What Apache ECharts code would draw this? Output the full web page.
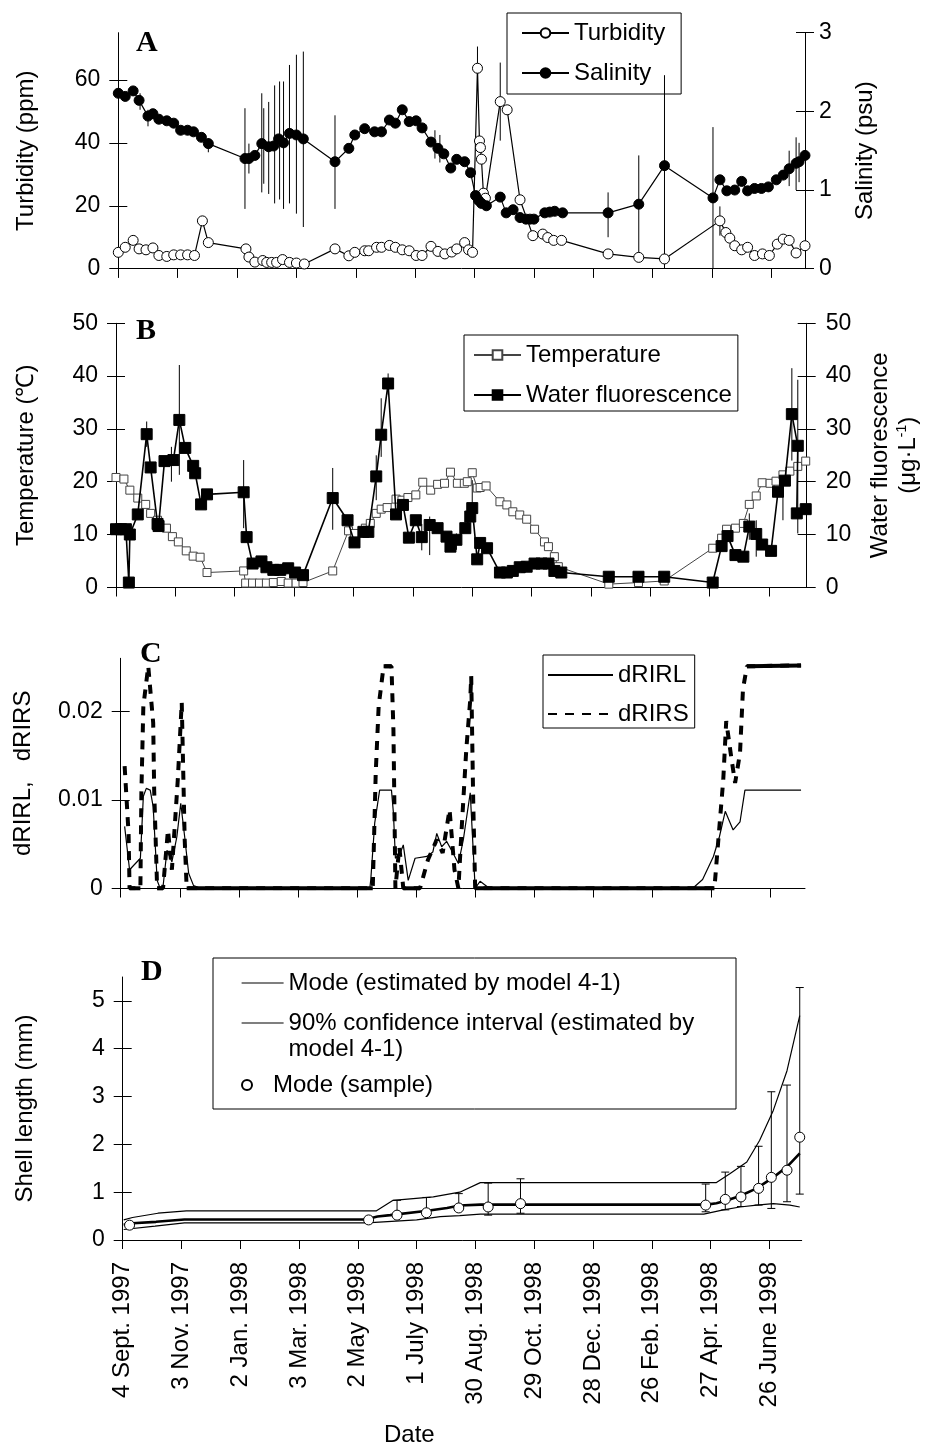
<!DOCTYPE html>
<html>
<head>
<meta charset="utf-8">
<script src="https://cdn.jsdelivr.net/npm/echarts@6/dist/echarts.min.js"></script>
<style>
html, body { margin: 0; padding: 0; background: #fff; }
#main { width: 927px; height: 1448px; }
</style>
</head>
<body>
<div id="main"></div>
<script>
// x values are days since 4 Sept. 1997
var dateLabels = ['4 Sept. 1997', '3 Nov. 1997', '2 Jan. 1998', '3 Mar. 1998', '2 May 1998', '1 July 1998',
    '30 Aug. 1998', '29 Oct. 1998', '28 Dec. 1998', '26 Feb. 1998', '27 Apr. 1998', '26 June 1998'];

// panel A
var turbidity = [[0,5.2],[7,6.8],[15,9.0],[21,6.3],[28,6.0],[35,6.6],[41,4.2],[49,3.9],[56,4.4],[63,4.4],[70,4.4],[77,4.2],[85,15.2],[91,8.3],[129,6.3],[132,3.7],[138,2.1],[146,2.6],[150,2.0],[155,2.0],[160,2.0],[166,2.9],[173,2.0],[180,1.8],[188,1.5],[219,6.3],[233,4.1],[239,5.2],[249,5.7],[253,5.7],[261,6.8],[266,6.8],[274,7.4],[280,6.8],[287,6.0],[294,5.7],[301,4.2],[307,4.2],[316,7.1],[323,5.5],[330,4.7],[337,5.3],[342,6.3],[350,8.3],[354,6.0],[358,5.2],[363,63.7],[365,40.6],[366,38.5],[367,34.8],[369,24.0],[371,22.4],[386,53.1],[393,50.5],[406,21.9],[419,10.5],[429,11.0],[434,9.9],[440,9.0],[448,9.0],[495,4.7],[526,3.6],[552,3.1],[608,15.2],[614,11.5],[618,9.7],[623,7.3],[630,6.0],[636,6.8],[643,4.2],[651,4.7],[658,4.2],[666,7.8],[672,9.4],[678,9.0],[685,5.0],[694,7.3]];
var salinity = [[0,2.23],[7,2.19],[15,2.26],[21,2.14],[30,1.94],[35,1.97],[41,1.90],[49,1.88],[56,1.85],[63,1.76],[70,1.76],[76,1.74],[84,1.67],[91,1.59],[128,1.40],[132,1.40],[138,1.44],[145,1.59],[152,1.55],[157,1.56],[162,1.65],[167,1.60],[173,1.72],[180,1.70],[187,1.65],[219,1.36],[233,1.53],[239,1.70],[249,1.78],[259,1.74],[266,1.74],[274,1.89],[280,1.85],[287,2.02],[294,1.87],[301,1.88],[307,1.79],[316,1.61],[323,1.53],[329,1.46],[336,1.28],[342,1.39],[350,1.36],[356,1.22],[361,0.93],[364,0.87],[367,0.83],[372,0.80],[386,0.91],[392,0.71],[399,0.75],[406,0.65],[412,0.63],[416,0.63],[420,0.63],[431,0.71],[436,0.72],[441,0.73],[449,0.71],[495,0.71],[526,0.82],[552,1.31],[601,0.90],[608,1.13],[615,0.99],[623,1.00],[630,1.11],[636,0.99],[643,1.02],[650,1.02],[657,1.04],[665,1.13],[672,1.19],[678,1.27],[685,1.34],[688,1.36],[694,1.44]];
// [day, high, low]
var salinityErr = [[22,2.23,2.02],[30,2.02,1.81],[91,1.66,1.48],[128,2.04,0.76],[132,1.59,1.21],[145,2.23,0.97],[147,2.04,1.08],[152,2.12,0.95],[158,2.33,0.83],[163,2.38,0.88],[167,2.38,0.76],[173,2.59,0.83],[180,2.72,0.70],[187,2.76,0.53],[219,1.95,0.76],[320,1.76,1.40],[325,1.70,1.35],[495,0.97,0.40],[526,1.44,0.19],[552,2.46,0],[601,1.80,0],[678,1.50,1.05],[685,1.67,1.00],[688,1.60,1.10]];
var turbidityErr = [[363,70.6,56.8],[386,65.5,40.7],[608,19.8,10.5]];

// panel B
var temperature = [[0,20.8],[8,20.5],[14,18.4],[22,16.9],[30,15.7],[35,14.0],[42,12.7],[51,11.2],[57,9.6],[63,8.6],[71,6.9],[78,5.9],[85,5.7],[92,2.8],[129,3.1],[131,0.8],[138,0.8],[145,0.8],[152,0.8],[159,0.9],[167,1.1],[174,0.8],[182,0.8],[189,0.9],[219,3.1],[235,10.7],[241,10.2],[252,11.2],[257,12.1],[263,14.0],[268,14.8],[274,15.1],[283,16.7],[289,16.5],[295,17.0],[303,17.5],[310,19.9],[318,18.4],[325,19.5],[332,19.7],[338,21.8],[345,19.7],[352,19.7],[355,20.0],[360,21.7],[365,18.8],[368,18.9],[374,19.2],[388,16.2],[395,15.6],[401,14.3],[408,13.7],[415,12.9],[423,11.0],[433,8.6],[437,7.7],[443,5.8],[447,3.9],[498,0.6],[528,0.9],[554,1.2],[603,7.4],[612,9.3],[617,11.0],[626,11.2],[634,12.1],[640,15.7],[647,17.3],[653,19.8],[661,19.7],[667,20.1],[674,21.3],[681,22.0],[689,22.9],[697,23.9]];
var fluorescence = [[0,11.0],[5,11.0],[10,11.0],[13,0.9],[14,10.0],[22,13.8],[31,29.0],[35,22.7],[42,12.0],[43,11.6],[49,23.9],[58,24.1],[64,31.7],[70,26.4],[78,23.0],[80,21.6],[86,15.7],[92,17.6],[129,18.0],[132,9.5],[138,4.5],[147,4.9],[152,3.8],[159,3.3],[166,3.3],[174,3.6],[181,2.8],[189,2.3],[219,16.9],[234,12.7],[241,8.5],[250,10.5],[255,10.5],[263,21.0],[268,28.9],[275,38.6],[283,13.8],[290,15.6],[296,9.4],[303,12.7],[309,9.5],[317,11.8],[325,11.2],[334,9.6],[338,7.7],[344,9.0],[353,11.2],[358,13.4],[360,15.0],[365,5.3],[368,8.4],[375,7.4],[388,2.8],[395,2.8],[401,3.1],[408,3.8],[415,3.9],[423,4.5],[430,4.5],[437,4.5],[443,3.1],[450,2.8],[498,2.0],[528,2.0],[554,2.0],[603,0.9],[612,7.8],[618,9.7],[626,6.1],[634,5.8],[640,11.5],[647,10.1],[653,8.1],[662,6.9],[669,18.1],[676,20.2],[683,32.8],[689,26.8],[688,14.0],[697,14.8]];
var fluorescenceErr = [[31,31.4,26.6],[56,26.6,20.0],[64,42.1,21.3],[129,24.1,11.2],[219,22.6,10.9],[263,25.0,16.5],[268,35.8,24.7],[275,40.5,36.5],[309,12.0,7.0],[317,13.4,6.1],[344,10.2,7.1],[360,20.3,15.0],[640,14.0,9.0],[647,12.7,5.8],[674,21.6,12.7],[683,41.5,24.0],[689,39.3,10.2]];

// panel C
var dRIRL = [[4,0.0070],[9,0.0021],[20,0.0034],[23,0.0104],[26,0.0113],[30,0.0111],[33,0.0092],[37,0.0009],[40,0],[43,0.0002],[47,0.0043],[52,0.0030],[57,0.0058],[61,0.0096],[65,0.0058],[69,0.0017],[74,0.0003],[81,0],[253,0],[254,0.0010],[258,0.0074],[263,0.0111],[275,0.0111],[277,0.0085],[279,0.0034],[284,0.0040],[287,0.0049],[292,0.0009],[299,0.0034],[311,0.0036],[317,0.0041],[321,0.0062],[326,0.0047],[331,0.0053],[336,0.0043],[343,0.0028],[348,0.0055],[355,0.0108],[360,0],[365,0.0008],[372,0.0002],[378,0],[581,0],[591,0.0010],[602,0.0036],[608,0.0058],[614,0.0087],[622,0.0066],[629,0.0075],[634,0.0111],[691,0.0111]];
var dRIRS = [[4,0.0138],[8,0.0062],[9,0],[20,0],[21,0.0108],[23,0.0206],[28,0.0251],[33,0.0187],[34,0.0111],[37,0],[43,0],[48,0.0066],[52,0.0021],[58,0.0123],[62,0.0210],[65,0.0055],[67,0],[256,0],[259,0.0130],[262,0.0206],[267,0.0251],[275,0.0251],[277,0.0179],[278,0.0092],[279,0],[283,0.0047],[287,0],[304,0],[312,0.0032],[321,0.0055],[327,0.0040],[334,0.0089],[339,0.0021],[343,0],[346,0.0062],[351,0.0157],[355,0.0213],[356,0.0240],[358,0.0100],[360,0],[603,0],[607,0.0055],[612,0.0123],[615,0.0189],[620,0.0149],[624,0.0119],[629,0.0153],[632,0.0225],[636,0.0251],[691,0.0252]];

// panel D
var modeEstimated = [[1,0.32],[10,0.35],[34,0.38],[63,0.43],[248,0.43],[260,0.49],[273,0.52],[311,0.61],[331,0.67],[344,0.72],[365,0.74],[596,0.74],[606,0.77],[617,0.83],[630,0.92],[647,1.08],[664,1.31],[678,1.53],[691,1.81]];
var ciUpper = [[1,0.42],[10,0.47],[36,0.56],[65,0.61],[259,0.61],[276,0.83],[317,0.90],[344,1.00],[365,1.20],[606,1.20],[620,1.39],[637,1.63],[650,2.08],[664,2.71],[678,3.54],[691,4.69]];
var ciLower = [[1,0.22],[33,0.29],[63,0.36],[249,0.36],[266,0.38],[300,0.42],[324,0.49],[344,0.51],[365,0.54],[593,0.54],[613,0.63],[630,0.69],[647,0.73],[664,0.76],[681,0.73],[691,0.69]];
// [day, mode, high, low]
var modeSample = [[7,0.31,0.31,0.31],[251,0.42,0.42,0.42],[280,0.52,0.83,0.52],[310,0.57,0.89,0.57],[343,0.67,0.97,0.67],[373,0.69,1.19,0.52],[406,0.76,1.28,0.56],[595,0.73,1.17,0.59],[615,0.85,1.42,0.63],[631,0.90,1.54,0.70],[649,1.08,1.96,0.73],[662,1.31,3.10,0.66],[678,1.46,3.24,0.80],[691,2.15,5.28,0.96]];

var FONT = 'Liberation Sans';
var CI_NAME = '90% confidence interval (estimated by\nmodel 4-1)';
var xTicks = dateLabels.map(function (d, i) { return i * 60; });

var chartDom = document.getElementById('main');
var myChart = echarts.init(chartDom);

function xAxes(grid, max, withLabels) {
    var outer = {
        type: 'value', gridIndex: grid, min: 0, max: max, splitLine: { show: false },
        axisLine: { show: true, onZero: false, lineStyle: { color: '#000', width: 1 } },
        axisTick: { show: true, length: 9, customValues: xTicks, lineStyle: { color: '#000' } },
        axisLabel: withLabels ? {
            show: true, customValues: xTicks, rotate: 90, margin: 22,
            fontFamily: FONT, fontSize: 24, color: '#000',
            formatter: function (v) { return dateLabels[Math.round(v / 60)]; }
        } : { show: false }
    };
    var inner = {
        type: 'value', gridIndex: grid, min: 0, max: max, splitLine: { show: false },
        axisLine: { show: false },
        axisTick: { show: true, inside: true, length: 9, customValues: xTicks, lineStyle: { color: '#000' } },
        axisLabel: { show: false }
    };
    return [outer, inner];
}

function yAxes(grid, pos, max, ticks, margin, name, nameGap, extra) {
    var outer = {
        type: 'value', gridIndex: grid, position: pos, min: 0, max: max, splitLine: { show: false },
        axisLine: { show: true, lineStyle: { color: '#000', width: 1 } },
        axisTick: { show: true, length: 9, customValues: ticks, lineStyle: { color: '#000' } },
        axisLabel: { show: true, customValues: ticks, margin: margin, fontFamily: FONT, fontSize: 23, color: '#000' },
        name: name, nameLocation: 'middle', nameGap: nameGap, nameRotate: 90,
        nameTextStyle: Object.assign({ fontFamily: FONT, fontSize: 24, color: '#000' }, extra || {})
    };
    var inner = {
        type: 'value', gridIndex: grid, position: pos, min: 0, max: max, splitLine: { show: false },
        axisLine: { show: false },
        axisTick: { show: true, inside: true, length: 9, customValues: ticks, lineStyle: { color: '#000' } },
        axisLabel: { show: false }
    };
    return [outer, inner];
}

function errorBars(withCaps) {
    return function (params, api) {
        var x = api.value(0), hi = api.value(1), lo = api.value(2);
        if (hi === lo) return null;
        var a = api.coord([x, hi]), b = api.coord([x, lo]);
        var kids = [{ type: 'line', shape: { x1: a[0], y1: a[1], x2: b[0], y2: b[1] }, style: { stroke: '#000', lineWidth: 1 } }];
        if (withCaps) {
            kids.push({ type: 'line', shape: { x1: a[0] - 4, y1: a[1], x2: a[0] + 4, y2: a[1] }, style: { stroke: '#000', lineWidth: 1 } });
            kids.push({ type: 'line', shape: { x1: b[0] - 4, y1: b[1], x2: b[0] + 4, y2: b[1] }, style: { stroke: '#000', lineWidth: 1 } });
        }
        return { type: 'group', children: kids };
    };
}

var letterStyle = { fontFamily: 'Liberation Serif', fontWeight: 'bold', fontSize: 30, color: '#000' };
var legendText = { fontFamily: FONT, fontSize: 24, lineHeight: 26, color: '#000' };
var thinLegendLine = { color: '#000', width: 1.2, type: 'solid', opacity: 1 };

var option = {
    animation: false,
    backgroundColor: '#fff',
    textStyle: { fontFamily: FONT },
    title: [
        { text: 'A', left: 136, top: 28, padding: 0, textStyle: letterStyle },
        { text: 'B', left: 136, top: 316, padding: 0, textStyle: letterStyle },
        { text: 'C', left: 140, top: 639, padding: 0, textStyle: letterStyle },
        { text: 'D', left: 141, top: 957, padding: 0, textStyle: letterStyle },
        { text: 'Date', left: 384, top: 1423, padding: 0, textStyle: { fontFamily: FONT, fontSize: 24, fontWeight: 'normal', color: '#000' } }
    ],
    grid: [
        { left: 118.3, top: 32.7, width: 686.7, height: 236, outerBoundsMode: 'none' },
        { left: 116, top: 323.3, width: 690.7, height: 264, outerBoundsMode: 'none' },
        { left: 120.7, top: 658.3, width: 684.3, height: 230, outerBoundsMode: 'none' },
        { left: 122.7, top: 977, width: 679, height: 263, outerBoundsMode: 'none' }
    ],
    xAxis: [].concat(
        xAxes(0, 694, false),
        xAxes(1, 698, false),
        xAxes(2, 695, false),
        xAxes(3, 693, true)
    ),
    yAxis: [].concat(
        yAxes(0, 'left', 75, [0, 20, 40, 60], 18, 'Turbidity (ppm)', 80),
        yAxes(0, 'right', 3, [0, 1, 2, 3], 14, 'Salinity (psu)', 48),
        yAxes(1, 'left', 50, [0, 10, 20, 30, 40, 50], 18, 'Temperature (℃)', 78),
        yAxes(1, 'right', 50, [0, 10, 20, 30, 40, 50], 19, 'Water fluorescence\n(μg·L{sup|-1})', 60,
            { lineHeight: 28, rich: { sup: { fontFamily: FONT, fontSize: 14, verticalAlign: 'top', lineHeight: 28 } } }),
        yAxes(2, 'left', 0.026, [0, 0.01, 0.02], 18, 'dRIRL,   dRIRS', 85),
        yAxes(3, 'left', 5.5, [0, 1, 2, 3, 4, 5], 18, 'Shell length (mm)', 85)
    ),
    legend: [
        {
            data: ['Turbidity', 'Salinity'], orient: 'vertical', left: 507, top: 13,
            padding: [7, 16, 8, 14], itemGap: 14, itemWidth: 47, itemHeight: 12,
            borderColor: '#000', borderWidth: 1, selectedMode: false, textStyle: legendText
        },
        {
            data: ['Temperature', 'Water fluorescence'], orient: 'vertical', left: 464, top: 335,
            padding: [7, 6, 3, 9], itemGap: 14, itemWidth: 47, itemHeight: 12,
            borderColor: '#000', borderWidth: 1, selectedMode: false, textStyle: legendText
        },
        {
            data: ['dRIRL', 'dRIRS'], orient: 'vertical', left: 543, top: 655,
            padding: [7, 6, 1, 4], itemGap: 13, itemWidth: 65, itemHeight: 12,
            borderColor: '#000', borderWidth: 1, selectedMode: false, textStyle: legendText,
            itemStyle: { opacity: 0 }
        },
        {
            data: ['Mode (estimated by model 4-1)'], left: 241, top: 970, padding: 0,
            itemWidth: 42, itemHeight: 10, selectedMode: false, textStyle: legendText,
            itemStyle: { opacity: 0 }, lineStyle: thinLegendLine
        },
        {
            // leading blank line keeps the icon level with the first text line
            data: [CI_NAME], left: 241, top: 984, padding: 0,
            itemWidth: 42, itemHeight: 10, selectedMode: false, textStyle: legendText,
            itemStyle: { opacity: 0 }, lineStyle: thinLegendLine,
            formatter: function (name) { return '\n' + name; }
        },
        {
            data: ['Mode (sample)'], left: 241, top: 1072, padding: 0,
            itemWidth: 42, itemHeight: 10, selectedMode: false, textStyle: legendText
        }
    ],
    graphic: [
        { type: 'rect', left: 210.5, top: 955.5, shape: { width: 523, height: 151 }, style: { fill: 'none', stroke: '#000', lineWidth: 1 }, z: 100 }
    ],
    series: [
        // A
        {
            type: 'custom', xAxisIndex: 0, yAxisIndex: 2, renderItem: errorBars(false), data: salinityErr, z: 1
        },
        {
            type: 'custom', xAxisIndex: 0, yAxisIndex: 0, renderItem: errorBars(false), data: turbidityErr, z: 1
        },
        {
            name: 'Turbidity', type: 'line', xAxisIndex: 0, yAxisIndex: 0, data: turbidity,
            symbol: 'circle', symbolSize: 10,
            itemStyle: { color: '#fff', borderColor: '#000', borderWidth: 1 },
            lineStyle: { color: '#000', width: 1.2 }, z: 3
        },
        {
            name: 'Salinity', type: 'line', xAxisIndex: 0, yAxisIndex: 2, data: salinity,
            symbol: 'circle', symbolSize: 10,
            itemStyle: { color: '#000', borderColor: '#000', borderWidth: 1 },
            lineStyle: { color: '#000', width: 1.2 }, z: 3
        },
        // B
        {
            type: 'custom', xAxisIndex: 2, yAxisIndex: 6, renderItem: errorBars(false), data: fluorescenceErr, z: 1
        },
        {
            name: 'Temperature', type: 'line', xAxisIndex: 2, yAxisIndex: 4, data: temperature,
            symbol: 'rect', symbolSize: 8,
            itemStyle: { color: '#fff', borderColor: '#444', borderWidth: 1 },
            lineStyle: { color: '#444', width: 1 }, z: 3
        },
        {
            name: 'Water fluorescence', type: 'line', xAxisIndex: 2, yAxisIndex: 6, data: fluorescence,
            symbol: 'rect', symbolSize: 11,
            itemStyle: { color: '#000', borderColor: '#000', borderWidth: 1 },
            lineStyle: { color: '#000', width: 1.6 }, z: 4
        },
        // C
        {
            name: 'dRIRL', type: 'line', xAxisIndex: 4, yAxisIndex: 8, data: dRIRL,
            symbol: 'none', itemStyle: { color: '#000' }, lineStyle: { color: '#000', width: 1.2 }, z: 3
        },
        {
            name: 'dRIRS', type: 'line', xAxisIndex: 4, yAxisIndex: 8, data: dRIRS,
            symbol: 'none', itemStyle: { color: '#000' }, lineStyle: { color: '#000', width: 4, type: [9, 8] }, z: 3
        },
        {
            // flat stretches of dRIRS print as a solid band in the original
            type: 'custom', xAxisIndex: 4, yAxisIndex: 8, data: dRIRS, z: 3,
            renderItem: function (params, api) {
                var i = params.dataIndex;
                if (i === 0) return null;
                var p0 = api.coord(dRIRS[i - 1]), p1 = api.coord(dRIRS[i]);
                if (Math.abs(p1[1] - p0[1]) > Math.abs(p1[0] - p0[0])) return null;
                return { type: 'line', shape: { x1: p0[0], y1: p0[1], x2: p1[0], y2: p1[1] }, style: { stroke: '#000', lineWidth: 4 } };
            }
        },
        // D
        {
            type: 'custom', xAxisIndex: 6, yAxisIndex: 10, renderItem: errorBars(true),
            data: modeSample.map(function (r) { return [r[0], r[2], r[3]]; }), z: 1
        },
        {
            name: CI_NAME, type: 'line', xAxisIndex: 6, yAxisIndex: 10, data: ciUpper,
            symbol: 'none', itemStyle: { color: '#000' }, lineStyle: { color: '#000', width: 1.2 }, z: 2
        },
        {
            name: CI_NAME, type: 'line', xAxisIndex: 6, yAxisIndex: 10, data: ciLower,
            symbol: 'none', itemStyle: { color: '#000' }, lineStyle: { color: '#000', width: 1.2 }, z: 2
        },
        {
            name: 'Mode (estimated by model 4-1)', type: 'line', xAxisIndex: 6, yAxisIndex: 10, data: modeEstimated,
            symbol: 'none', itemStyle: { color: '#000' }, lineStyle: { color: '#000', width: 2.6 }, z: 2
        },
        {
            name: 'Mode (sample)', type: 'scatter', xAxisIndex: 6, yAxisIndex: 10,
            data: modeSample.map(function (r) { return [r[0], r[1]]; }),
            symbol: 'circle', symbolSize: 10,
            itemStyle: { color: '#fff', borderColor: '#000', borderWidth: 1, opacity: 1 }, z: 5
        }
    ]
};

option && myChart.setOption(option);
</script>
</body>
</html>
